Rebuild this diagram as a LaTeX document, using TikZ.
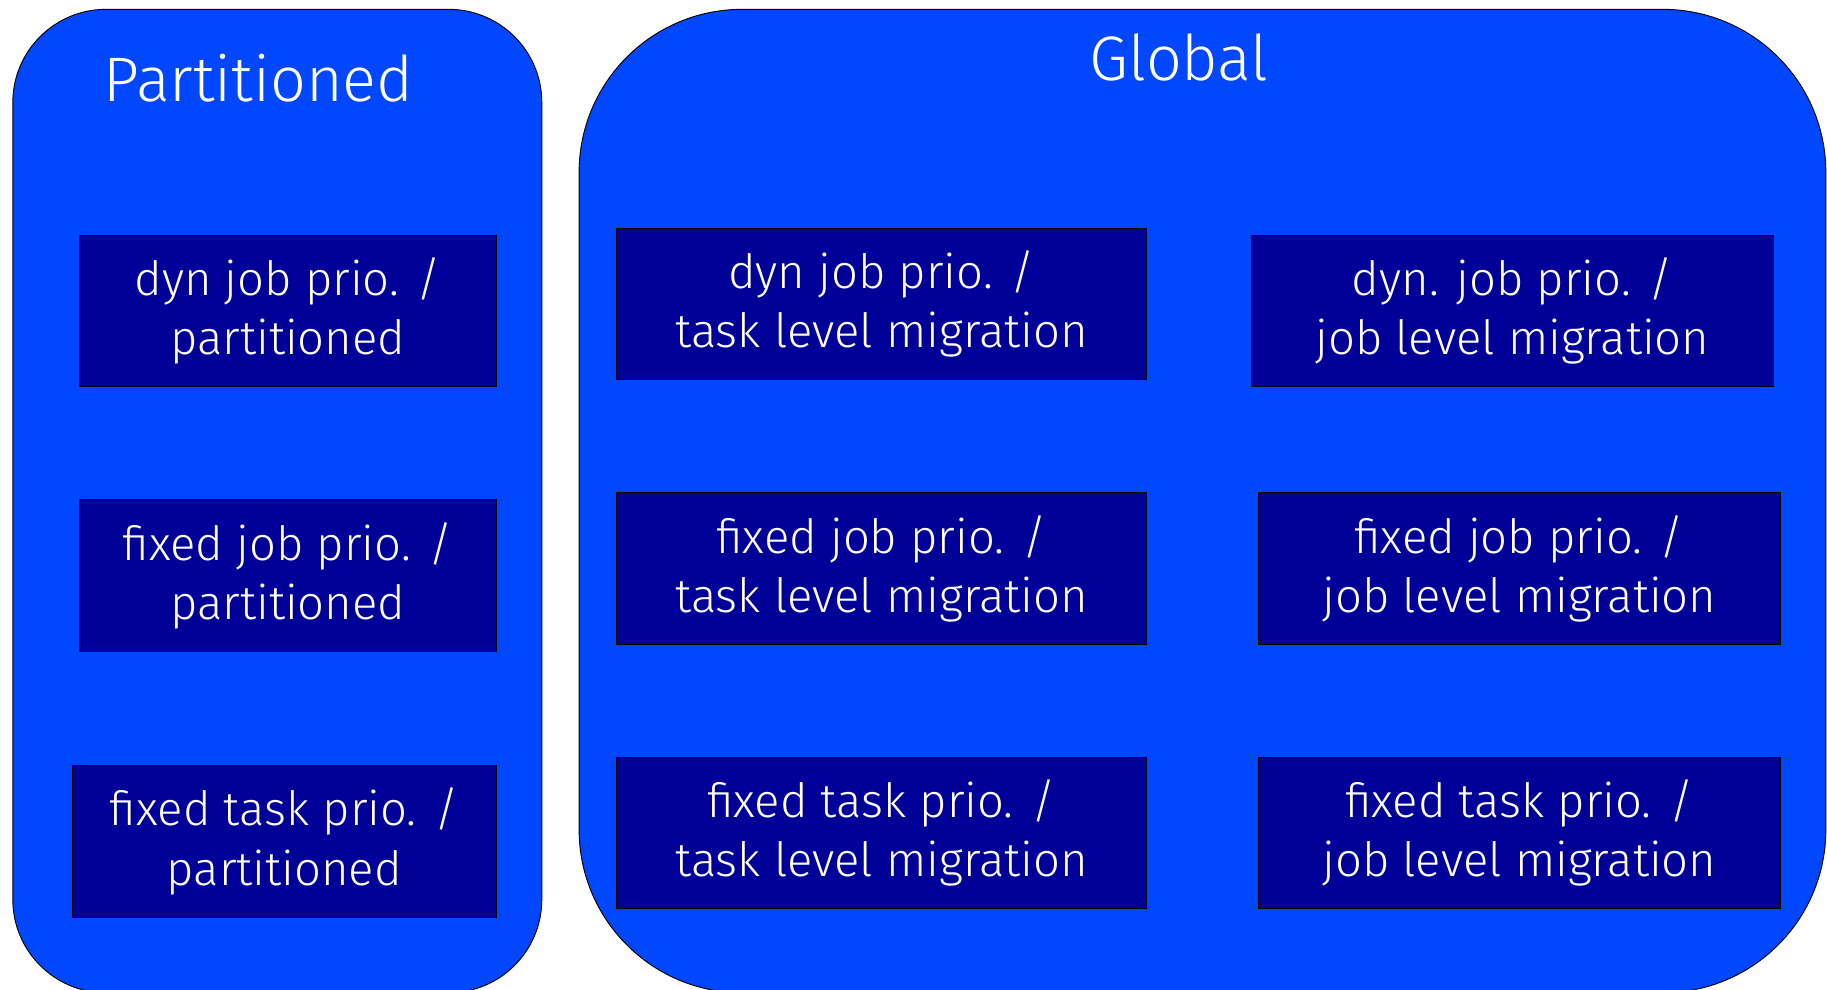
\documentclass[tikz,border=0pt]{standalone}
\usepackage{fontspec}
\setmainfont{Fira Sans}[UprightFont=* Light]
\definecolor{panelblue}{RGB}{0,71,255}
\definecolor{boxnavy}{RGB}{0,0,153}
\tikzset{
  panel/.style={draw=black, line width=0.8pt, fill=panelblue},
  paneltitle/.style={text=white, font=\fontsize{54}{64}\selectfont, inner sep=0pt},
  scheme/.style={draw=black, line width=0.8pt, fill=boxnavy, text=white,
    minimum height=130pt, inner sep=0pt, align=center,
    font=\fontsize{40.5}{51}\selectfont},
}
\begin{document}
\begin{tikzpicture}[x=1pt,y=-1pt]
\useasboundingbox (0,0) rectangle (1568,849);
\clip (0,0) rectangle (1568,849);

% the two groups of scheduling classes
\draw[panel, rounded corners=80pt] (11,8) rectangle (465,852);
\draw[panel, rounded corners=140pt] (497,8) rectangle (1567,852);

\node[paneltitle] (ptitle) at (222,67) {Partitioned};
\node[paneltitle] (gtitle) at (1012,49) {Global};

% partitioned schemes
\node[scheme, minimum width=358pt] (p1) at (247,267) {dyn job prio. /\\ partitioned};
\node[scheme, minimum width=358pt] (p2) at (247,494) {fixed job prio. /\\ partitioned};
\node[scheme, minimum width=364pt] (p3) at (244,722) {fixed task prio. /\\ partitioned};

% global schemes, task level migration
\node[scheme, minimum width=455pt] (t1) at (756.5,261) {dyn job prio. /\\ task level migration};
\node[scheme, minimum width=455pt] (t2) at (756.5,488) {fixed job prio. /\\ task level migration};
\node[scheme, minimum width=455pt] (t3) at (756.5,715) {fixed task prio. /\\ task level migration};

% global schemes, job level migration
\node[scheme, minimum width=448pt] (j1) at (1298,267) {dyn. job prio. /\\ job level migration};
\node[scheme, minimum width=448pt] (j2) at (1304,488) {fixed job prio. /\\ job level migration};
\node[scheme, minimum width=448pt] (j3) at (1304,715) {fixed task prio. /\\ job level migration};
\end{tikzpicture}
\end{document}
